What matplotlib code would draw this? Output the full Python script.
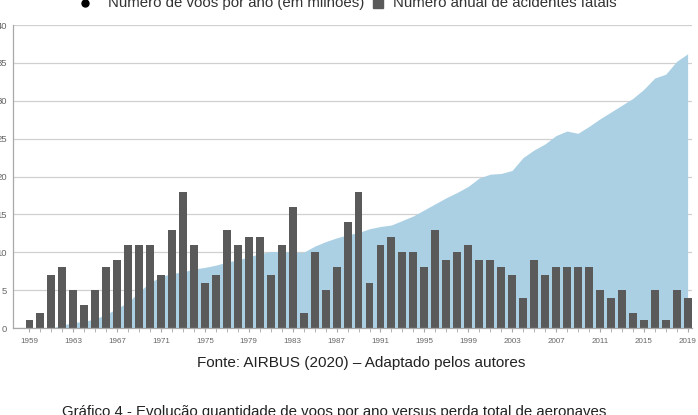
import numpy as np
import matplotlib
matplotlib.use('Agg')
import matplotlib.pyplot as plt
from matplotlib.lines import Line2D
from matplotlib.patches import Rectangle

plt.rcParams['font.family'] = ['Liberation Sans', 'DejaVu Sans']

years = np.arange(1959, 2020)

# Numero anual de acidentes fatais
accidents = [1, 2, 7, 8, 5, 3, 5, 8, 9, 11, 11, 11,
             7, 13, 18, 11, 6, 7, 13, 11, 12, 12, 7, 11,
             16, 2, 10, 5, 8, 14, 18, 6, 11, 12, 10, 10,
             8, 13, 9, 10, 11, 9, 9, 8, 7, 4, 9, 7,
             8, 8, 8, 8, 5, 4, 5, 2, 1, 5, 1, 5,
             4]

# Numero de voos por ano (milhoes)
flights = [0.0, 0.0, 0.0, 0.4, 0.7, 0.9, 1.2, 1.8, 2.6, 3.4, 4.8, 6.0,
           6.8, 7.2, 7.4, 7.8, 8.0, 8.3, 8.7, 9.0, 9.4, 9.8, 10.1, 10.1,
           10.0, 10.0, 10.8, 11.4, 11.9, 12.3, 12.6, 13.1, 13.4, 13.6, 14.2, 14.8,
           15.6, 16.4, 17.2, 17.9, 18.7, 19.8, 20.3, 20.4, 20.8, 22.5, 23.5, 24.3,
           25.4, 26.0, 25.7, 26.6, 27.6, 28.5, 29.4, 30.3, 31.5, 33.0, 33.5, 35.2,
           36.2]

label_years = np.arange(1959, 2020, 4)
y_ticks = np.arange(0, 41, 5)

W, H = 698, 415
fig = plt.figure(figsize=(W / 100, H / 100), dpi=100)
ax = fig.add_axes([13 / W, 1 - 328 / H, 679 / W, 303 / H])

ax.fill_between(years, flights, 0, color='#abd0e4', lw=0, zorder=1)
ax.bar(years, accidents, width=0.72, color='#5a5a5a', zorder=2)

ax.set_xlim(1957.5, 2019.4)
ax.set_ylim(0, 40)
ax.set_yticks(y_ticks)
ax.set_xticks(years, minor=True)
ax.set_xticks(label_years)
ax.set_xticklabels([str(y) for y in label_years])
ax.grid(axis='y', color='#d0d0d0', lw=0.9, zorder=0)
ax.set_axisbelow(True)

for side in ['top', 'right']:
    ax.spines[side].set_visible(False)
for side in ['left', 'bottom']:
    ax.spines[side].set_color('#a8a8a8')
    ax.spines[side].set_linewidth(0.9)

ax.tick_params(axis='x', which='both', length=3, color='#a8a8a8',
               labelsize=5.8, labelcolor='#666666', pad=4)
# y labels sit partly outside the canvas, as in the source image
ax.tick_params(axis='y', length=0, labelsize=6.8, labelcolor='#666666', pad=4.3)

# legend drawn by hand (the two markers have different gaps to their text)
fig.add_artist(Line2D([85 / W], [1 - 3 / H], marker='o', color='black',
                      markersize=5, linestyle='none', transform=fig.transFigure))
fig.text(108 / W, 1 - 3 / H, 'Número de voos por ano (em milhões)',
         ha='left', va='center', fontsize=10.8, color='#333333')
fig.add_artist(Rectangle((373 / W, 1 - 8 / H), 10 / W, 10 / H,
                         color='#5a5a5a', transform=fig.transFigure))
fig.text(393 / W, 1 - 3 / H, 'Número anual de acidentes fatais',
         ha='left', va='center', fontsize=10.8, color='#333333')

fig.text(361 / W, 1 - 363 / H, 'Fonte: AIRBUS (2020) – Adaptado pelos autores',
         ha='center', va='center', fontsize=11, color='#222222')
fig.text(62 / W, 1 - 412 / H,
         'Gráfico 4 - Evolução quantidade de voos por ano versus perda total de aeronaves',
         ha='left', va='center', fontsize=10.8, color='#222222')

fig.savefig('out.png', dpi=100)
